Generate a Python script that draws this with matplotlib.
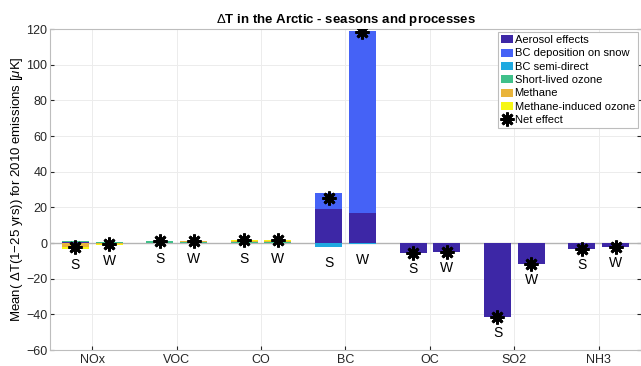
import numpy as np
import matplotlib.pyplot as plt

plt.rcParams['font.family'] = ['Liberation Sans', 'DejaVu Sans']
plt.rcParams['mathtext.fontset'] = 'custom'
plt.rcParams['mathtext.it'] = 'Liberation Sans:italic'
plt.rcParams['mathtext.rm'] = 'Liberation Sans'

species = ['NOx', 'VOC', 'CO', 'BC', 'OC', 'SO2', 'NH3']
seasons = ['S', 'W']

# mean dT (uK) per process, summer (S) and winter (W)
aerosol_S = [0.3, 0.2, 0.1, 19.1, -5.8, -41.7, -3.5]
aerosol_W = [0.2, 0.1, 0.1, 17.0, -4.9, -12.0, -2.3]
bcdep_S = [0, 0, 0, 8.8, 0, 0, 0]
bcdep_W = [0, 0, 0, 101.7, 0, 0, 0]
semidirect_S = [0, 0, 0, -2.4, 0, 0, 0]
semidirect_W = [0, 0, 0, -0.3, 0, 0, 0]
ozone_S = [1.1, 0.8, 0.2, 0, 0, 0, 0]
ozone_W = [0.6, 0.6, 0.2, 0, 0, 0, 0]
methane_S = [-2.0, 0.3, 0.9, 0, 0, 0, 0]
methane_W = [-0.8, 0.3, 1.1, 0, 0, 0, 0]
mio_S = [-1.5, 0.1, 0.3, 0, 0, 0, 0]
mio_W = [-0.5, 0.1, 0.5, 0, 0, 0, 0]

labels = ['Aerosol effects', 'BC deposition on snow', 'BC semi-direct',
          'Short-lived ozone', 'Methane', 'Methane-induced ozone']
colors = ['#3d27a6', '#4562f6', '#1fa9e0', '#40c08a', '#e9b43a', '#f6f714']
comp_S = [aerosol_S, bcdep_S, semidirect_S, ozone_S, methane_S, mio_S]
comp_W = [aerosol_W, bcdep_W, semidirect_W, ozone_W, methane_W, mio_W]

fig = plt.figure(figsize=(6.41, 3.66), dpi=100)
ax = fig.add_axes([0.078, 0.0437, 0.922, 0.877])

centers = 1.5 + 2.5 * np.arange(len(species))
xpos = np.concatenate([centers - 0.5, centers + 0.5])
data = np.hstack([np.array(comp_S), np.array(comp_W)])  # (process, bar)
seas = [seasons[0]] * len(species) + [seasons[1]] * len(species)

ax.axhline(0, color='#b4b4b4', lw=1, zorder=1)

handles = []
pos_base = np.zeros(data.shape[1])
neg_base = np.zeros(data.shape[1])
for k in range(data.shape[0]):
    v = data[k]
    base = np.where(v >= 0, pos_base, neg_base)
    h = ax.bar(xpos, v, 0.8, bottom=base, color=colors[k], edgecolor='none',
               label=labels[k], zorder=2)
    handles.append(h)
    pos_base += np.where(v >= 0, v, 0)
    neg_base += np.where(v < 0, v, 0)

net = data.sum(axis=0)
h_net, = ax.plot(xpos, net, linestyle='none', marker=(8, 2, 0), ms=10, mew=2,
                 color='black', label='Net effect', zorder=4)
handles.append(h_net)

for x, n, nb, s in zip(xpos, net, neg_base, seas):
    y = min(n, nb, 0) - 9
    ax.text(x, y, s, ha='center', va='center', fontsize=10, zorder=5)

ax.set_xlim(0.25, 17.75)
ax.set_ylim(-60, 120)
ax.set_yticks(np.arange(-60, 121, 20))
ax.set_xticks(centers)
ax.set_xticklabels(species)
ax.tick_params(direction='in', length=3, labelsize=9, colors='#262626',
               top=False, right=True, pad=2)
ax.tick_params(axis='x', pad=3)
for sp in ax.spines.values():
    sp.set_color('#bdbdbd')
    sp.set_linewidth(0.8)
ax.grid(True, color='#ececec', lw=0.7, zorder=0)
ax.set_axisbelow(True)

ax.set_title(r'$\Delta$T in the Arctic - seasons and processes',
             fontsize=9.5, fontweight='bold', pad=4)
ax.set_ylabel(r'Mean( $\Delta$T(1$-$25 yrs)) for 2010 emissions [$\mu$K]',
              fontsize=9.5, labelpad=1)

leg = ax.legend(handles=handles, loc='upper right', fontsize=8, fancybox=False,
                framealpha=1, edgecolor='#bdbdbd', borderaxespad=0.25,
                handlelength=1.1, handleheight=0.75, handletextpad=0.1,
                labelspacing=0.3, borderpad=0.3)
leg.get_frame().set_linewidth(0.8)

fig.savefig('out.png', dpi=100)
